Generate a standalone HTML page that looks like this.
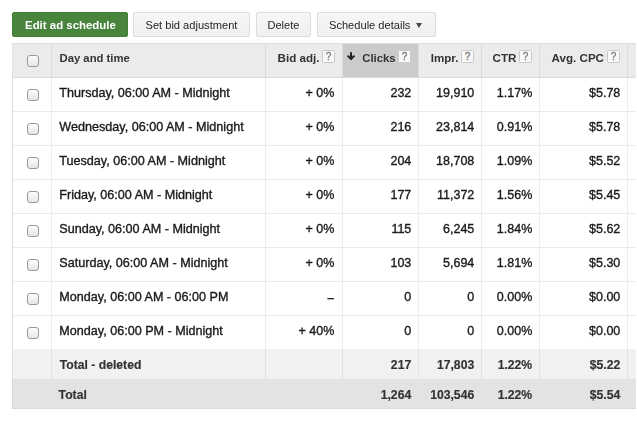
<!DOCTYPE html><html><head><meta charset="utf-8"><title>Ad schedule</title><style>
html,body{margin:0;padding:0;background:#fff;}
body{width:637px;height:422px;overflow:hidden;position:relative;font-family:"Liberation Sans", Arial, Helvetica, sans-serif;color:#222;}
.a{position:absolute;white-space:nowrap;}
.btn{position:absolute;box-sizing:border-box;border:1px solid #dcdcdc;border-radius:2px;background:linear-gradient(#f6f6f6,#f0f0f0);}
.bt{position:absolute;white-space:nowrap;font-size:11.1px;line-height:20px;color:#262626;}
.hl{position:absolute;height:1px;}
.vl{position:absolute;width:1px;}
.cb{position:absolute;box-sizing:border-box;width:12px;height:12px;border:1px solid #9a9a9a;border-radius:3px;background:linear-gradient(#fdfdfd,#e6e6e6);}
.hp{position:absolute;box-sizing:border-box;width:13px;height:13px;border:1px solid #c9c9c9;background:#f8f8f8;font-size:10px;line-height:11.5px;text-align:center;color:#777;border-radius:1.5px;-webkit-text-stroke:0.3px #777;}
.r{text-align:right;}
.t,.n{-webkit-text-stroke:0.35px #1a1a1a;color:#1a1a1a;}
.h{color:#2a2a2a;}
.b{-webkit-text-stroke:0.15px #2a2a2a;color:#2a2a2a;}
.t{font-size:12.6px;line-height:20px;}
.n{font-size:12.5px;line-height:20px;}
.h{font-size:11.6px;line-height:20px;font-weight:bold;color:#333;}
.b{font-size:12.2px;line-height:20px;font-weight:bold;color:#333;}
#w{position:absolute;left:0;top:0;width:637px;height:422px;filter:blur(0.35px);}
</style></head><body><div id="w">
<div class="btn" style="left:12px;top:12px;width:116px;height:25px;background:#49843d;border-color:#447e39;"></div>
<div class="bt" style="left:25.0px;top:14.83px;color:#fff;font-weight:bold;font-size:11.45px;">Edit ad schedule</div>
<div class="btn" style="left:133px;top:12px;width:117px;height:25px;"></div>
<div class="bt" style="left:145.5px;top:14.95px;">Set bid adjustment</div>
<div class="btn" style="left:256px;top:12px;width:55px;height:25px;"></div>
<div class="bt" style="left:267.4px;top:14.95px;">Delete</div>
<div class="btn" style="left:317px;top:12px;width:119px;height:25px;"></div>
<div class="bt" style="left:329.0px;top:14.95px;">Schedule details</div>
<div class="a" style="left:416px;top:23.3px;width:0;height:0;border-left:3.8px solid transparent;border-right:3.8px solid transparent;border-top:5px solid #4a4a4a;"></div>
<div class="a" style="left:12px;top:43px;width:624px;height:34px;background:#ebebeb;"></div>
<div class="a" style="left:343px;top:44px;width:75px;height:33px;background:#cbcbcb;"></div>
<div class="a" style="left:12px;top:349px;width:624px;height:30px;background:#f1f1f1;"></div>
<div class="a" style="left:12px;top:379px;width:624px;height:30px;background:#e3e3e3;"></div>
<div class="hl" style="left:12px;top:408px;width:624px;background:#dadada;"></div>
<div class="vl" style="left:12px;top:379px;height:30px;background:#d9d9d9;"></div>
<div class="hl" style="left:12px;top:43px;width:624px;background:#dedede;"></div>
<div class="hl" style="left:12px;top:77px;width:624px;background:#dadada;"></div>
<div class="hl" style="left:12px;top:111px;width:624px;background:#eaeaea;"></div>
<div class="hl" style="left:12px;top:145px;width:624px;background:#eaeaea;"></div>
<div class="hl" style="left:12px;top:179px;width:624px;background:#eaeaea;"></div>
<div class="hl" style="left:12px;top:213px;width:624px;background:#eaeaea;"></div>
<div class="hl" style="left:12px;top:247px;width:624px;background:#eaeaea;"></div>
<div class="hl" style="left:12px;top:281px;width:624px;background:#eaeaea;"></div>
<div class="hl" style="left:12px;top:315px;width:624px;background:#eaeaea;"></div>
<div class="vl" style="left:12px;top:43px;height:336px;background:#e0e0e0;"></div>
<div class="vl" style="left:51px;top:44px;height:33px;background:#dcdcdc;"></div>
<div class="vl" style="left:51px;top:78px;height:271px;background:#ececec;"></div>
<div class="vl" style="left:51px;top:349px;height:30px;background:#e3e3e3;"></div>
<div class="vl" style="left:265px;top:44px;height:33px;background:#dcdcdc;"></div>
<div class="vl" style="left:265px;top:78px;height:271px;background:#ececec;"></div>
<div class="vl" style="left:265px;top:349px;height:30px;background:#e3e3e3;"></div>
<div class="vl" style="left:342px;top:44px;height:33px;background:#dcdcdc;"></div>
<div class="vl" style="left:342px;top:78px;height:271px;background:#ececec;"></div>
<div class="vl" style="left:342px;top:349px;height:30px;background:#e3e3e3;"></div>
<div class="vl" style="left:418px;top:44px;height:33px;background:#dcdcdc;"></div>
<div class="vl" style="left:418px;top:78px;height:271px;background:#ececec;"></div>
<div class="vl" style="left:418px;top:349px;height:30px;background:#e3e3e3;"></div>
<div class="vl" style="left:481px;top:44px;height:33px;background:#dcdcdc;"></div>
<div class="vl" style="left:481px;top:78px;height:271px;background:#ececec;"></div>
<div class="vl" style="left:481px;top:349px;height:30px;background:#e3e3e3;"></div>
<div class="vl" style="left:539px;top:44px;height:33px;background:#dcdcdc;"></div>
<div class="vl" style="left:539px;top:78px;height:271px;background:#ececec;"></div>
<div class="vl" style="left:539px;top:349px;height:30px;background:#e3e3e3;"></div>
<div class="vl" style="left:627px;top:44px;height:33px;background:#dcdcdc;"></div>
<div class="vl" style="left:627px;top:78px;height:271px;background:#ececec;"></div>
<div class="vl" style="left:627px;top:349px;height:30px;background:#e3e3e3;"></div>
<div class="cb" style="left:27px;top:55px;"></div>
<div class="a h" style="left:59.5px;top:48.28px;font-size:11.3px;">Day and time</div>
<div class="hp" style="left:322px;top:50px;">?</div>
<div class="a h r" style="right:317.6px;top:48.18px;font-size:11.6px;">Bid adj.</div>
<div class="hp" style="left:398px;top:50px;">?</div>
<div class="a h r" style="right:241.4px;top:48.28px;font-size:11.3px;">Clicks</div>
<svg class="a" style="left:345px;top:50px;" width="12" height="12" viewBox="345 50 12 12"><path d="M351 52.3V59" stroke="#222" stroke-width="2" fill="none"/><path d="M347.6 55.6L351 59L354.4 55.6" stroke="#222" stroke-width="2" fill="none"/></svg>
<div class="hp" style="left:461px;top:50px;">?</div>
<div class="a h r" style="right:178.6px;top:48.18px;font-size:11.6px;">Impr.</div>
<div class="hp" style="left:519px;top:50px;">?</div>
<div class="a h r" style="right:120.6px;top:48.18px;font-size:11.6px;">CTR</div>
<div class="hp" style="left:607px;top:50px;">?</div>
<div class="a h r" style="right:33.0px;top:48.18px;font-size:11.6px;">Avg. CPC</div>
<div class="cb" style="left:27px;top:89px;"></div>
<div class="a t" style="left:59.3px;top:83.03px;">Thursday, 06:00 AM - Midnight</div>
<div class="a n r" style="right:302.7px;top:83.07px;">+ 0%</div>
<div class="a n r" style="right:225.7px;top:83.07px;">232</div>
<div class="a n r" style="right:162.7px;top:83.07px;">19,910</div>
<div class="a n r" style="right:104.7px;top:83.07px;">1.17%</div>
<div class="a n r" style="right:16.7px;top:83.07px;">$5.78</div>
<div class="cb" style="left:27px;top:123px;"></div>
<div class="a t" style="left:59.3px;top:117.03px;">Wednesday, 06:00 AM - Midnight</div>
<div class="a n r" style="right:302.7px;top:117.07px;">+ 0%</div>
<div class="a n r" style="right:225.7px;top:117.07px;">216</div>
<div class="a n r" style="right:162.7px;top:117.07px;">23,814</div>
<div class="a n r" style="right:104.7px;top:117.07px;">0.91%</div>
<div class="a n r" style="right:16.7px;top:117.07px;">$5.78</div>
<div class="cb" style="left:27px;top:157px;"></div>
<div class="a t" style="left:59.3px;top:151.03px;">Tuesday, 06:00 AM - Midnight</div>
<div class="a n r" style="right:302.7px;top:151.07px;">+ 0%</div>
<div class="a n r" style="right:225.7px;top:151.07px;">204</div>
<div class="a n r" style="right:162.7px;top:151.07px;">18,708</div>
<div class="a n r" style="right:104.7px;top:151.07px;">1.09%</div>
<div class="a n r" style="right:16.7px;top:151.07px;">$5.52</div>
<div class="cb" style="left:27px;top:191px;"></div>
<div class="a t" style="left:59.3px;top:185.03px;">Friday, 06:00 AM - Midnight</div>
<div class="a n r" style="right:302.7px;top:185.07px;">+ 0%</div>
<div class="a n r" style="right:225.7px;top:185.07px;">177</div>
<div class="a n r" style="right:162.7px;top:185.07px;">11,372</div>
<div class="a n r" style="right:104.7px;top:185.07px;">1.56%</div>
<div class="a n r" style="right:16.7px;top:185.07px;">$5.45</div>
<div class="cb" style="left:27px;top:225px;"></div>
<div class="a t" style="left:59.3px;top:219.03px;">Sunday, 06:00 AM - Midnight</div>
<div class="a n r" style="right:302.7px;top:219.07px;">+ 0%</div>
<div class="a n r" style="right:225.7px;top:219.07px;">115</div>
<div class="a n r" style="right:162.7px;top:219.07px;">6,245</div>
<div class="a n r" style="right:104.7px;top:219.07px;">1.84%</div>
<div class="a n r" style="right:16.7px;top:219.07px;">$5.62</div>
<div class="cb" style="left:27px;top:259px;"></div>
<div class="a t" style="left:59.3px;top:253.03px;">Saturday, 06:00 AM - Midnight</div>
<div class="a n r" style="right:302.7px;top:253.07px;">+ 0%</div>
<div class="a n r" style="right:225.7px;top:253.07px;">103</div>
<div class="a n r" style="right:162.7px;top:253.07px;">5,694</div>
<div class="a n r" style="right:104.7px;top:253.07px;">1.81%</div>
<div class="a n r" style="right:16.7px;top:253.07px;">$5.30</div>
<div class="cb" style="left:27px;top:293px;"></div>
<div class="a t" style="left:59.3px;top:287.03px;">Monday, 06:00 AM - 06:00 PM</div>
<div class="a n r" style="right:302.7px;top:287.07px;"><span style="position:relative;top:0.8px"><span style="letter-spacing:-0.9px">-</span>-</span></div>
<div class="a n r" style="right:225.7px;top:287.07px;">0</div>
<div class="a n r" style="right:162.7px;top:287.07px;">0</div>
<div class="a n r" style="right:104.7px;top:287.07px;">0.00%</div>
<div class="a n r" style="right:16.7px;top:287.07px;">$0.00</div>
<div class="cb" style="left:27px;top:327px;"></div>
<div class="a t" style="left:59.3px;top:321.03px;">Monday, 06:00 PM - Midnight</div>
<div class="a n r" style="right:302.7px;top:321.07px;">+ 40%</div>
<div class="a n r" style="right:225.7px;top:321.07px;">0</div>
<div class="a n r" style="right:162.7px;top:321.07px;">0</div>
<div class="a n r" style="right:104.7px;top:321.07px;">0.00%</div>
<div class="a n r" style="right:16.7px;top:321.07px;">$0.00</div>
<div class="a b" style="left:59.7px;top:355.17px;">Total - deleted</div>
<div class="a b r" style="right:225.8px;top:355.17px;">217</div>
<div class="a b r" style="right:162.8px;top:355.17px;">17,803</div>
<div class="a b r" style="right:104.8px;top:355.17px;">1.22%</div>
<div class="a b r" style="right:16.8px;top:355.17px;">$5.22</div>
<div class="a b" style="left:58.6px;top:384.87px;">Total</div>
<div class="a b r" style="right:225.8px;top:384.87px;">1,264</div>
<div class="a b r" style="right:162.8px;top:384.87px;">103,546</div>
<div class="a b r" style="right:104.8px;top:384.87px;">1.22%</div>
<div class="a b r" style="right:16.8px;top:384.87px;">$5.54</div>
</div></body></html>
